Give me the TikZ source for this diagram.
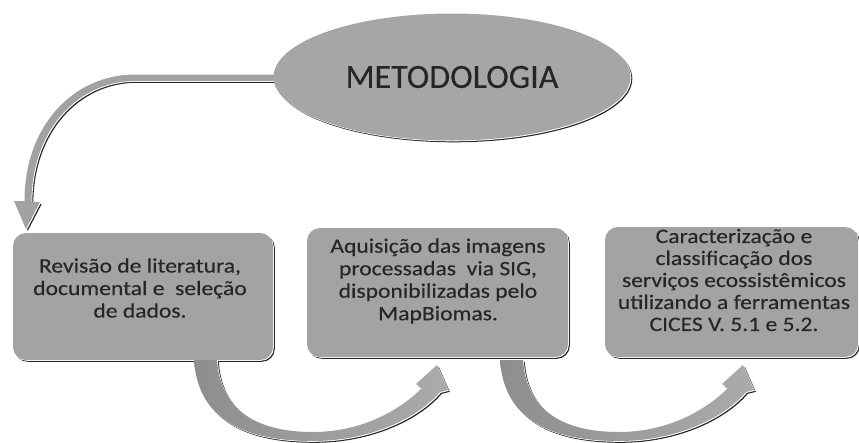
\documentclass[tikz,border=0pt]{standalone}
\usepackage{fontspec}
\setmainfont{Carlito}
\newfontfamily\boxfont[FakeStretch=1.15,FakeBold=0.3]{Carlito}
\newfontfamily\titlefont[FakeBold=0.2]{Carlito}
\usetikzlibrary{shapes.geometric}
\definecolor{ellgray}{HTML}{A6A6A6}
\definecolor{boxgray}{HTML}{A3A3A3}
\definecolor{txtgray}{HTML}{262626}
\definecolor{arrdark}{HTML}{8E8E8E}
\definecolor{arrlight}{HTML}{ABABAB}
\tikzset{
  emb/.style={
    preaction={fill=black!85, transform canvas={xshift=1.8pt,yshift=-1.8pt}},
    preaction={fill=white, transform canvas={xshift=0.8pt,yshift=-0.8pt}}},
  stepbox/.style={emb, fill=boxgray, rounded corners=13pt, inner sep=0pt},
  boxtext/.style={font=\boxfont\fontsize{20.5}{22.5}\selectfont, align=center, text=txtgray, inner sep=0pt},
  curvarrow/.style={emb, left color=arrdark, right color=arrlight}
}
\begin{document}
\begin{tikzpicture}[x=1pt,y=-1pt]
\useasboundingbox (0,0) rectangle (859,442);

% top-left curved arrow from ellipse to first box
\coordinate (ta) at (276,77);
\fill[emb, fill=arrlight!95!black] (ta) ++(0,-2.5) -- (135,74.5)
  .. controls (74,74.5) and (24.5,125) .. (24.5,201)
  -- (14,201) -- (26,229) -- (40,202) -- (31.5,202)
  .. controls (31.5,131) and (77,81) .. (135,81) -- (276,81) -- cycle;

% ellipse
\node[ellipse, emb, fill=ellgray, minimum width=357pt, minimum height=127pt, inner sep=0pt,
      font=\titlefont\fontsize{34}{40}\selectfont, text=txtgray] (m) at (452,77) {METODOLOGIA};

% boxes
\node[stepbox, minimum width=260pt, minimum height=127pt] (b1) at (143,296.5) {};
\node[stepbox, minimum width=261pt, minimum height=129pt] (b2) at (437.5,292.5) {};
\node[stepbox, minimum width=253pt, minimum height=130pt] (b3) at (731.5,292) {};

\node[boxtext] (t1) at (140,288) {Revisão de literatura,\\documental e~~seleção\\de dados.};
\node[boxtext] (t2) at (438,281) {Aquisição das imagens\\processadas~~via SIG,\\disponibilizadas pelo\\MapBiomas.};
\node[boxtext, font=\boxfont\fontsize{20.5}{22}\selectfont] (t3) at (734,280) {Caracterização e\\classificação dos\\serviços ecossistêmicos\\utilizando a ferramentas\\CICES V. 5.1 e 5.2.};

% bottom curved arrows
\foreach \dx in {0, 306}{
\begin{scope}[xshift=\dx pt]
\path[curvarrow] (194,360)
  .. controls (198,420) and (245,441) .. (313,441)
  .. controls (370,441) and (418,418) .. (440,392)
  -- (448,390) -- (437,365) -- (416,384) -- (422,388)
  .. controls (400,410) and (362,432) .. (313,432)
  .. controls (250,432) and (220,405) .. (217,360) -- cycle;
\end{scope}}
\end{tikzpicture}
\end{document}
